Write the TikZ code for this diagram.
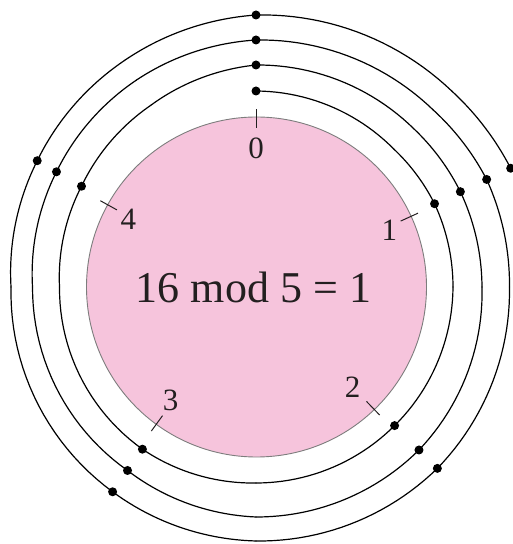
\documentclass[tikz,border=0pt]{standalone}
\usepackage{fontspec}
\setmainfont{Liberation Serif}
\definecolor{diskpink}{RGB}{246,196,220}
\definecolor{rimgray}{RGB}{125,125,125}
\definecolor{inkgray}{RGB}{35,31,32}
\begin{document}
\begin{tikzpicture}[x=1pt,y=1pt,
  spiralline/.style={line width=1.2pt, black, line cap=round, line join=round},
  dotmark/.style={circle, fill=black, inner sep=0pt, minimum size=9pt},
  tickline/.style={line width=1pt, inkgray},
  numlabel/.style={font=\fontsize{31}{31}\selectfont, text=inkgray, inner sep=0pt},
]
\useasboundingbox (0,0) rectangle (512,544);
\begin{scope}[shift={(256,257)}]
  % disk
  \node[circle, fill=diskpink, draw=rimgray, line width=0.9pt, minimum size=340pt, inner sep=0pt] (disk) at (0.5,0) {};
  \node[font=\fontsize{44}{44}\selectfont, text=inkgray] (eq) at (-2.5,0) {16 mod 5 = 1};
  % ticks
  \foreach \i/\a in {0/90, 1/24.5, 2/-46, 3/-126, 4/151} {
    \coordinate (ti\i) at (\a:159);
    \coordinate (to\i) at (\a:178);
    \draw[tickline] (ti\i) -- (to\i);
  }
  % labels
  \node[numlabel] (l0) at (90:139) {0};
  \node[numlabel] (l1) at (23:145) {1};
  \node[numlabel] (l2) at (-46:139) {2};
  \node[numlabel] (l3) at (-127:142) {3};
  \node[numlabel] (l4) at (152:144.5) {4};
  % spiral (piecewise: radius varies linearly with angle)
  \foreach \aA/\rA/\aB/\rB in {
      90/196/45/195, 45/195/25/197, 25/197/0/197, 0/197/-45/196, -45/196/-90/196,
      -90/196/-125/198, -125/198/-180/196.5, -180/196.5/-210/201.5, -210/201.5/-240/210,
      -240/210/-270/222, -270/222/-315/223.5, -315/223.5/-335/225.5, -335/225.5/-360/226,
      -360/226/-405/230.5, -405/230.5/-450/230, -450/230/-485/224, -485/224/-540/223.5,
      -540/223.5/-570/230.4, -570/230.4/-600/239, -600/239/-630/247, -630/247/-675/250.5,
      -675/250.5/-695/254.5, -695/254.5/-720/253.5, -720/253.5/-765/256.5, -765/256.5/-810/254,
      -810/254/-845/250, -845/250/-900/245, -900/245/-930/252.6, -930/252.6/-960/262,
      -960/262/-990/272, -990/272/-1035/277, -1035/277/-1055/281} {
    \draw[spiralline] plot[domain=\aA:\aB, samples=24, variable=\t]
      (\t:{\rA+(\rB-\rA)*(\t-\aA)/(\aB-\aA)});
  }
  % stations on the spiral
  \foreach \k/\a/\r in {0/90/196, 1/25/197, 2/-45/196, 3/-125/198, 4/-210/201.5,
      5/-270/222, 6/-335/225.5, 7/-405/230.5, 8/-485/224, 9/-570/230.4,
      10/-630/247, 11/-695/254.5, 12/-765/256.5, 13/-845/250, 14/-930/252.6,
      15/-990/272, 16/-1055/281} {
    \node[dotmark] (d\k) at (\a:\r) {};
  }
\end{scope}
\end{tikzpicture}
\end{document}
